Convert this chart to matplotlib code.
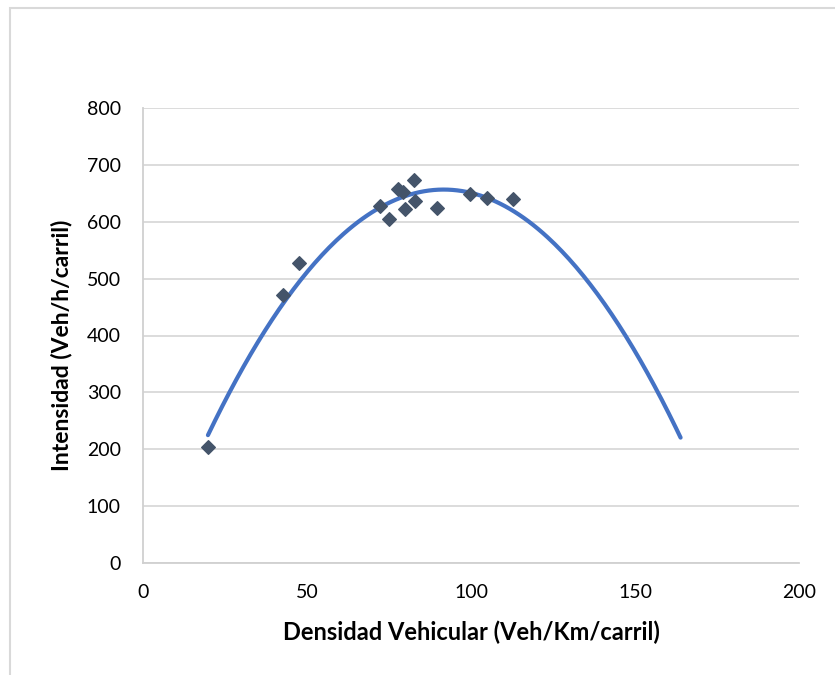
import numpy as np
import matplotlib.pyplot as plt

densidad = [19.8, 42.6, 47.6, 72.3, 75.0, 77.8, 79.4, 79.9, 82.7, 82.9, 89.7, 99.7, 104.8, 112.9]
intensidad = [204, 471, 528, 627, 604, 658, 653, 622, 673, 637, 624, 648, 642, 640]

# polynomial trendline (order 2), forecast forward 50
coef = np.polyfit(densidad, intensidad, 2)
xs = np.linspace(min(densidad), max(densidad) + 51, 200)
ys = np.polyval(coef, xs)

plt.rcParams['font.family'] = ['Lato', 'DejaVu Sans']
fig = plt.figure(figsize=(8.35, 6.75), dpi=100)
ax = fig.add_axes([143 / 835, 1 - 563 / 675, 656 / 835, 455 / 675])

ax.plot(xs, ys, color='#4472C4', lw=3, solid_capstyle='round', zorder=2)
ax.scatter(densidad, intensidad, marker='D', s=48, color='#44546A', zorder=3)

ax.set_xlim(0, 200)
ax.set_ylim(0, 800)
ax.set_xticks([0, 50, 100, 150, 200])
ax.set_yticks(range(0, 801, 100))
ax.grid(axis='y', color='#D9D9D9', lw=1.3)
ax.set_axisbelow(True)
for s in ['top', 'right']:
    ax.spines[s].set_visible(False)
for s in ['bottom', 'left']:
    ax.spines[s].set_color('#D0D0D0')
    ax.spines[s].set_linewidth(1.3)
ax.tick_params(length=0, labelsize=14)
ax.tick_params(axis='x', pad=15)
ax.tick_params(axis='y', pad=16)
ax.set_xlabel('Densidad Vehicular (Veh/Km/carril)', fontsize=17, fontweight='bold', va='center')
ax.set_ylabel('Intensidad (Veh/h/carril)', fontsize=16.5, fontweight='bold', va='center')
ax.xaxis.set_label_coords(0.5, (563 - 632) / 455)
ax.yaxis.set_label_coords((62 - 143) / 656, (563 - 345) / 455)

fig.patches.append(plt.Rectangle((10 / 835, -0.1), 1.2, 1 - 8 / 675 + 0.1, transform=fig.transFigure,
                                 fill=False, edgecolor='#D9D9D9', lw=1.5))

fig.savefig('out.png', dpi=100)
